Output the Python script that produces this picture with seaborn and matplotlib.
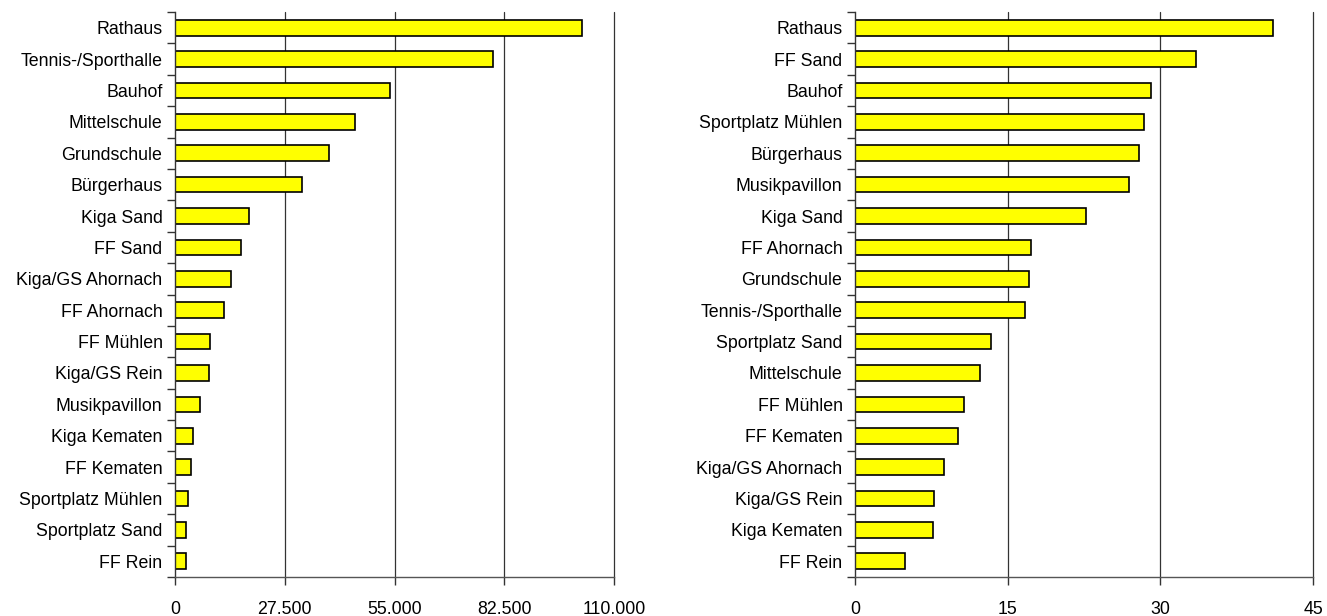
import matplotlib
matplotlib.use("Agg")
import matplotlib.pyplot as plt
import seaborn as sns
import numpy as np
import pandas as pd
from matplotlib.ticker import FixedLocator, FuncFormatter

# Left chart data
left_categories = ["Rathaus", "Tennis-/Sporthalle", "Bauhof", "Mittelschule", "Grundschule",
                   "Bürgerhaus", "Kiga Sand", "FF Sand", "Kiga/GS Ahornach", "FF Ahornach",
                   "FF Mühlen", "Kiga/GS Rein", "Musikpavillon", "Kiga Kematen", "FF Kematen",
                   "Sportplatz Mühlen", "Sportplatz Sand", "FF Rein"]
left_values = [101900, 79700, 53900, 45100, 38550, 31830, 18650, 16650, 14100, 12400,
               8800, 8400, 6350, 4550, 3900, 3150, 2850, 2850]
left_ticks = [0, 27500, 55000, 82500, 110000]

# Right chart data
right_categories = ["Rathaus", "FF Sand", "Bauhof", "Sportplatz Mühlen", "Bürgerhaus",
                    "Musikpavillon", "Kiga Sand", "FF Ahornach", "Grundschule",
                    "Tennis-/Sporthalle", "Sportplatz Sand", "Mittelschule", "FF Mühlen",
                    "FF Kematen", "Kiga/GS Ahornach", "Kiga/GS Rein", "Kiga Kematen", "FF Rein"]
right_values = [41.05, 33.46, 29.1, 28.44, 27.9, 26.94, 22.7, 17.31, 17.14, 16.73,
                13.33, 12.29, 10.75, 10.09, 8.72, 7.76, 7.64, 4.94]
right_ticks = [0, 15, 30, 45]

sns.set_theme(style="white")
plt.rcParams['font.family'] = ['Liberation Sans', 'DejaVu Sans']

fig = plt.figure(figsize=(13.27, 6.16), dpi=100)
ax1 = fig.add_axes([175/1327, 1-577/616, (614-175)/1327, (577-12)/616])
ax2 = fig.add_axes([855/1327, 1-577/616, (1313-855)/1327, (577-12)/616])

def de_fmt(v, pos=None):
    return f"{v:,.0f}".replace(",", ".")

for ax, cats, vals, ticks in [(ax1, left_categories, left_values, left_ticks),
                              (ax2, right_categories, right_values, right_ticks)]:
    df = pd.DataFrame({"cat": cats, "val": vals})
    sns.barplot(data=df, x="val", y="cat", orient="h", color="#FFFF00",
                edgecolor="black", linewidth=1.2, width=0.5, saturation=1, ax=ax)
    n = len(cats)
    ax.set_xlim(ticks[0], ticks[-1])
    ax.set_ylim(n - 0.5, -0.5)
    ax.set_xticks(ticks)
    ax.xaxis.set_major_formatter(FuncFormatter(de_fmt))
    ax.set_xlabel("")
    ax.set_ylabel("")
    for t in ticks[1:]:
        ax.axvline(t, color="#333333", linewidth=0.9, zorder=0, clip_on=False)
    ax.yaxis.set_minor_locator(FixedLocator(np.arange(-0.5, n, 1.0)))
    ax.tick_params(axis="y", which="major", length=0, pad=9, labelsize=12.8, colors="black")
    ax.tick_params(axis="y", which="minor", left=True, length=6, width=1, color="#333333")
    ax.tick_params(axis="x", which="major", bottom=True, length=6, width=1, color="#333333",
                   pad=11, labelsize=12.8, labelcolor="black")
    for s in ["top", "right"]:
        ax.spines[s].set_visible(False)
    ax.spines["left"].set_color("#333333")
    ax.spines["bottom"].set_color("#555555")
    ax.spines["left"].set_linewidth(1)
    ax.spines["bottom"].set_linewidth(1)
    ax.grid(False)

fig.savefig("out.png", dpi=100)
